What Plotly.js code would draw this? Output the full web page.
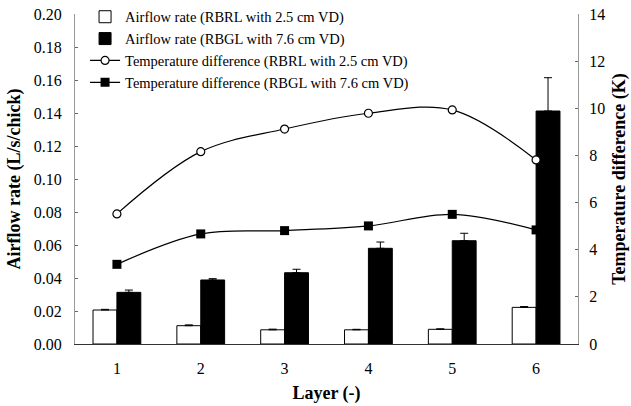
<!DOCTYPE html>
<html><head><meta charset="utf-8">
<script src="https://cdn.plot.ly/plotly-3.0.1.min.js"></script>
<style>html,body{margin:0;padding:0;background:#fff}#chart{width:631px;height:406px}</style>
</head><body><div id="chart"></div>
<script>
const layers = [1, 2, 3, 4, 5, 6];
const airflowRBRL = [0.0206, 0.0111, 0.0086, 0.0086, 0.0089, 0.0222];
const airflowRBRLErr = [0.0004, 0.0005, 0.0004, 0.0003, 0.0003, 0.0005];
const airflowRBGL = [0.0313, 0.0388, 0.0432, 0.0580, 0.0626, 0.1412];
const airflowRBGLErr = [0.0014, 0.0008, 0.0021, 0.0038, 0.0045, 0.0202];
const tempRBRL = [5.52, 8.16, 9.12, 9.79, 9.93, 7.81];
const tempRBGL = [3.38, 4.67, 4.81, 5.01, 5.50, 4.84];
const leftTicks = [0, 0.02, 0.04, 0.06, 0.08, 0.10, 0.12, 0.14, 0.16, 0.18, 0.20];
const rightTicks = [0, 2, 4, 6, 8, 10, 12, 14];

const serif = 'Liberation Serif, Times New Roman, serif';
const traces = [
  {type:'bar', name:'Airflow rate (RBRL with 2.5 cm VD)', x:layers, y:airflowRBRL,
   marker:{color:'#fff', line:{color:'#000', width:1}},
   error_y:{type:'data', array:airflowRBRLErr, arrayminus:airflowRBRL.map(()=>0), color:'#000', thickness:1, width:4}},
  {type:'bar', name:'Airflow rate (RBGL with 7.6 cm VD)', x:layers, y:airflowRBGL,
   marker:{color:'#000', line:{color:'#000', width:1}},
   error_y:{type:'data', array:airflowRBGLErr, arrayminus:airflowRBGL.map(()=>0), color:'#000', thickness:1, width:4}},
  {type:'scatter', mode:'lines+markers', name:'Temperature difference (RBRL with 2.5 cm VD)', x:layers, y:tempRBRL, yaxis:'y2',
   line:{color:'#000', width:1.2, shape:'spline'}, marker:{symbol:'circle', size:8, color:'#fff', line:{color:'#000', width:1.2}}},
  {type:'scatter', mode:'lines+markers', name:'Temperature difference (RBGL with 7.6 cm VD)', x:layers, y:tempRBGL, yaxis:'y2',
   line:{color:'#000', width:1.2, shape:'spline'}, marker:{symbol:'square', size:9, color:'#000'}}
];
const layout = {
  width:631, height:406,
  margin:{l:75, r:53, t:14, b:62, autoexpand:false},
  paper_bgcolor:'#fff', plot_bgcolor:'rgba(0,0,0,0)',
  font:{family:serif, size:16, color:'#000'},
  barmode:'group', bargap:0.43, bargroupgap:0,
  showlegend:true,
  legend:{x:0.02, y:1.04, xanchor:'left', yanchor:'top', bgcolor:'rgba(0,0,0,0)', font:{family:serif, size:14.5}, tracegroupgap:0, itemwidth:30, traceorder:'normal'},
  xaxis:{range:[0.5, 6.5], tickvals:layers, ticktext:layers.map(String), ticks:'', showgrid:false, zeroline:false,
    showline:true, linecolor:'#333', linewidth:1, ticklabelstandoff:10,
    title:{text:'<b>Layer (-)</b>', font:{family:serif, size:18}, standoff:10}},
  yaxis:{range:[0, 0.2], tickvals:leftTicks, ticktext:leftTicks.map(v=>v.toFixed(2)), ticks:'inside', ticklen:3, tickcolor:'#666',
    showgrid:false, zeroline:false, showline:true, linecolor:'#999', linewidth:1, ticklabelstandoff:9,
    title:{text:'<b>Airflow rate (L/s/chick)</b>', font:{family:serif, size:18}, standoff:8}},
  yaxis2:{range:[0, 14], overlaying:'y', side:'right', tickvals:rightTicks, ticks:'inside', ticklen:3, tickcolor:'#666',
    showgrid:false, zeroline:false, showline:true, linecolor:'#999', linewidth:1, ticklabelstandoff:7,
    title:{text:'<b>Temperature difference (K)</b>', font:{family:serif, size:18}, standoff:8}}
};
Plotly.newPlot('chart', traces, layout, {displayModeBar:false, staticPlot:true});
</script></body></html>
